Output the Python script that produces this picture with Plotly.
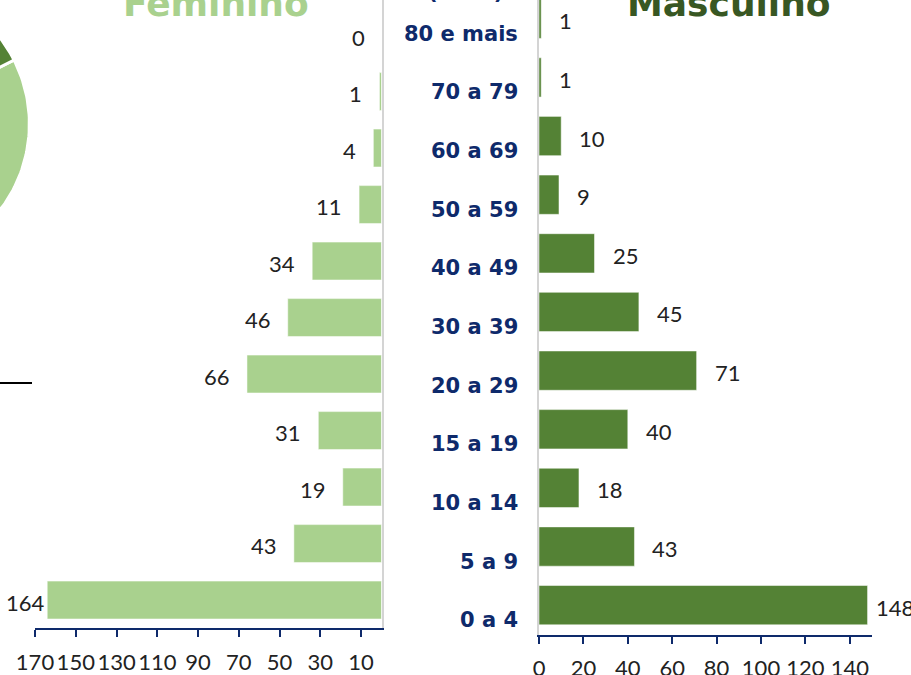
import numpy as np
import plotly.graph_objects as go

# faixas etárias, de baixo para cima
ages = ["0 a 4", "5 a 9", "10 a 14", "15 a 19", "20 a 29", "30 a 39",
        "40 a 49", "50 a 59", "60 a 69", "70 a 79", "80 e mais"]
fem = [164, 43, 19, 31, 66, 46, 34, 11, 4, 1, 0]
masc = [148, 43, 18, 40, 71, 45, 25, 9, 10, 1, 1]

fem_ticks = [10, 30, 50, 70, 90, 110, 130, 150, 170]
masc_ticks = [0, 20, 40, 60, 80, 100, 120, 140]

pie_labels = ["Feminino", "Masculino"]
pie_values = [sum(fem), sum(masc)]

LIGHT = "#A9D18E"
DARK = "#548235"
NAVY = "#0E2A6B"
TXT = "#222222"
W, H = 911, 675

fig = go.Figure()

# pizza (só a borda direita aparece no recorte)
cx, cy, r, start = -111.6, 124, 141, 63
ang = start
for lab, v, col in zip(pie_labels, pie_values, [LIGHT, DARK]):
    span = 360 * v / sum(pie_values)
    t = np.radians(np.linspace(ang, ang + span, 120))
    xs = np.concatenate([[cx], cx + r * np.sin(t), [cx]])
    ys = np.concatenate([[cy], cy - r * np.cos(t), [cy]])
    fig.add_trace(go.Scatter(x=xs, y=ys, fill="toself", fillcolor=col, mode="lines",
                             line=dict(color="white", width=3), name=lab,
                             xaxis="x3", yaxis="y3", hoverinfo="skip"))
    ang += span

fig.add_trace(go.Bar(x=fem, y=ages, orientation="h", marker_color=LIGHT,
                     name="Feminino", xaxis="x", yaxis="y"))
fig.add_trace(go.Bar(x=masc, y=ages, orientation="h", marker_color=DARK,
                     name="Masculino", xaxis="x2", yaxis="y2"))

ann = []
num_font = dict(family="Lato, Open Sans, sans-serif", size=22, color=TXT)
for a, v in zip(ages, fem):
    ann.append(dict(x=v, y=a, xref="x", yref="y", text=str(v), showarrow=False,
                    xanchor="right", xshift=0 if v > 160 else -15, yshift=-2, font=num_font))
for a, v in zip(ages, masc):
    ann.append(dict(x=v, y=a, xref="x2", yref="y2", text=str(v), showarrow=False,
                    xanchor="left", xshift=6 if v > 140 else 16, yshift=-2, font=num_font))
for a in ages:
    ann.append(dict(x=520 / W, y=a, xref="paper", yref="y2", text=a, showarrow=False,
                    xanchor="right", yshift=-15,
                    font=dict(family="DejaVu Sans", size=21, color=NAVY, weight="bold")))

title_font = dict(family="DejaVu Sans", size=36, weight="bold")
ann.append(dict(x=215.5 / W, y=1 - 26 / H, xref="paper", yref="paper", text="Feminino",
                showarrow=False, xanchor="center", yanchor="bottom",
                font=dict(title_font, color=LIGHT)))
ann.append(dict(x=729 / W, y=1 - 26 / H, xref="paper", yref="paper", text="Masculino",
                showarrow=False, xanchor="center", yanchor="bottom",
                font=dict(title_font, color="#385723")))
ann.append(dict(x=466 / W, y=1 - 6 / H, xref="paper", yref="paper", text="(anos)",
                showarrow=False, xanchor="center", yanchor="bottom",
                font=dict(family="DejaVu Sans", size=21, color=NAVY, weight="bold")))

xcommon = dict(showgrid=False, zeroline=False, showline=True, linecolor=NAVY, linewidth=2,
               ticks="outside", ticklen=7, tickwidth=2, tickcolor=NAVY, tickangle=0,
               tickfont=num_font, ticklabelstandoff=6, fixedrange=True, automargin=False)
ycommon = dict(showgrid=False, zeroline=False, showline=True, linecolor="#D4D4D4", linewidth=2,
               showticklabels=False, ticks="", layer="below traces", fixedrange=True,
               automargin=False, categoryorder="array", categoryarray=ages)

fig.update_layout(
    width=W, height=H,
    margin=dict(l=0, r=0, t=0, b=0, autoexpand=False),
    template="plotly_white",
    plot_bgcolor="rgba(0,0,0,0)", paper_bgcolor="white",
    showlegend=False, bargap=0.33,
    xaxis=dict(xcommon, domain=[35 / W, 381.5 / W], range=[170, 0], anchor="y",
               tickvals=fem_ticks, ticktext=[str(t) for t in fem_ticks]),
    yaxis=dict(ycommon, domain=[1 - 628.3 / H, 1], range=[-0.5, 10.62], anchor="x", side="right"),
    xaxis2=dict(xcommon, domain=[539 / W, 872 / W], range=[0, 150], anchor="y2",
                tickvals=masc_ticks),
    yaxis2=dict(ycommon, domain=[1 - 634.5 / H, 1], range=[-0.5, 10.32], anchor="x2"),
    xaxis3=dict(domain=[0, 0.05], range=[0, 0.05 * W], visible=False, fixedrange=True),
    yaxis3=dict(domain=[0, 1], range=[H, 0], visible=False, fixedrange=True, anchor="x3"),
    annotations=ann,
    shapes=[dict(type="line", xref="paper", yref="paper", x0=0, x1=32 / W,
                 y0=1 - 383 / H, y1=1 - 383 / H, line=dict(color="black", width=2))],
)

fig.write_html("out.html", config={"displayModeBar": False},
               post_script="document.body.style.margin='0';")
